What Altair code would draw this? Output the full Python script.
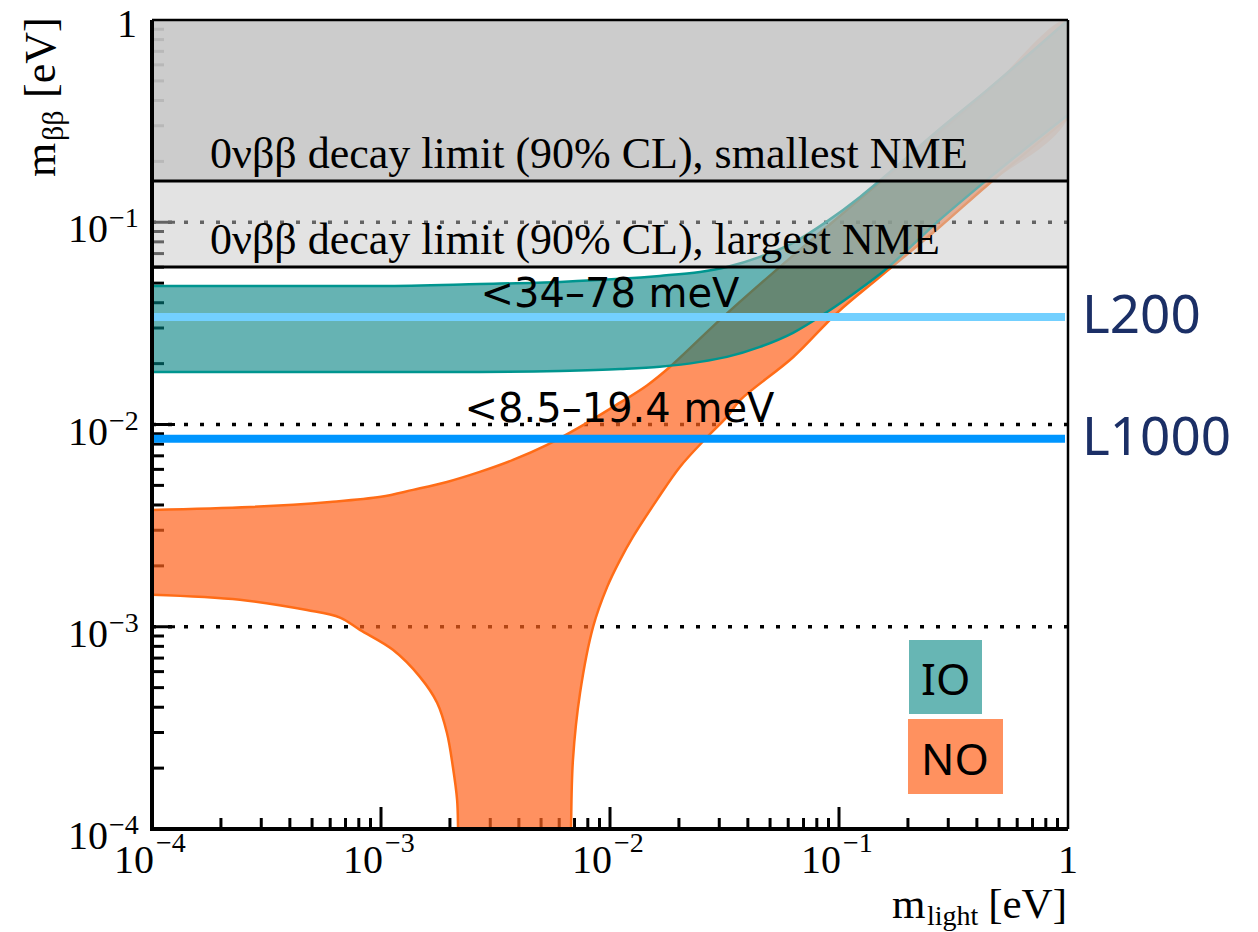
import altair as alt
import pandas as pd

# --- Allowed effective Majorana mass bands (eV) -------------------------
# Inverted ordering: lightest mass, upper and lower edge of the band
IO_M = [1e-4, 1e-3, 2.7e-3, 6.05e-3, 0.0111, 0.0165, 0.0247, 0.0324,
        0.0452, 0.063, 0.0887, 0.1236, 0.155, 0.276, 0.443, 1.0]
IO_UPPER = [0.0484, 0.0484, 0.0495, 0.0507, 0.0525, 0.0543, 0.0568, 0.0601,
            0.0674, 0.0791, 0.101, 0.1334, 0.165, 0.29, 0.45, 1.0]
IO_LOWER = [0.0182, 0.0182, 0.0182, 0.0184, 0.0188, 0.0193, 0.0204, 0.0216,
            0.0242, 0.0284, 0.0360, 0.0468, 0.0568, 0.103, 0.162, 0.339]

# Normal ordering: upper edge
NO_UPPER_M = [1e-4, 2.68e-4, 5.98e-4, 1e-3, 1.38e-3, 1.94e-3, 2.70e-3, 3.77e-3,
              5.31e-3, 7.40e-3, 0.0103, 0.0145, 0.0183, 0.0302, 0.0515, 0.0887,
              0.151, 0.276, 0.443, 1.0]
NO_UPPER = [0.00378, 0.00391, 0.00414, 0.00439, 0.00475, 0.00520, 0.00583,
            0.00668, 0.00793, 0.00973, 0.0122, 0.0156, 0.0193, 0.0329, 0.0562,
            0.095, 0.158, 0.28, 0.445, 1.0]
# Normal ordering: lower edge; the cancellation funnel drops below 1e-4 eV
NO_LOWER_M = [1e-4, 2.42e-4, 4.75e-4, 6.62e-4, 8.09e-4, 1.127e-3, 1.479e-3,
              1.758e-3, 1.94e-3, 2.06e-3, 2.15e-3, 2.17e-3, 2.18e-3, 6.74e-3,
              6.76e-3, 6.89e-3, 7.40e-3, 8.44e-3, 9.71e-3, 0.01107, 0.01259,
              0.01603, 0.0202, 0.0266, 0.0324, 0.0370, 0.063, 0.098, 0.151,
              0.276, 0.443, 1.0]
NO_LOWER = [1.44e-3, 1.36e-3, 1.21e-3, 1.11e-3, 9.65e-4, 7.69e-4, 5.65e-4,
            4.21e-4, 2.99e-4, 2.03e-4, 1.39e-4, 1e-4, 5e-5, 5e-5,
            1e-4, 2.20e-4, 4.71e-4, 1.0e-3, 1.57e-3, 2.14e-3, 2.78e-3,
            4.24e-3, 6.17e-3, 8.68e-3, 0.0109, 0.0132, 0.0215, 0.0356, 0.0537,
            0.095, 0.152, 0.328]

# --- Limits and sensitivities (eV) ---------------------------------------
LIMIT_VALUES = [0.06, 0.16]
LIMIT_TEXTS = ["0νββ decay limit (90% CL), largest NME",
               "0νββ decay limit (90% CL), smallest NME"]
SENS_VALUES = [0.034, 0.0085]
SENS_NAMES = ["L200", "L1000"]
SENS_RANGES = ["<34–78 meV", "<8.5–19.4 meV"]
SENS_RANGE_X = [0.01, 0.011]

# --- Axis decorations ----------------------------------------------------
DECADES = [1e-4, 1e-3, 1e-2, 1e-1]
EXPONENTS = ["−4", "−3", "−2", "−1"]
GRID = [1e-3, 1e-2, 1e-1]
MAJOR = [1e-3, 1e-2, 1e-1]
MINOR = [k * 10.0 ** e for e in range(-4, 0) for k in range(2, 10)]

W, H = 916, 809
SERIF = "Liberation Serif"
NO_FILL, NO_EDGE = "#ff631c", "#ff6c17"
IO_FILL, IO_EDGE = "#008080", "#00958f"

xs = alt.Scale(type="log", domain=[1e-4, 1])
ys = alt.Scale(type="log", domain=[1e-4, 1])


def X(f):
    return alt.X(f, type="quantitative", scale=xs, axis=None)


def Y(f):
    return alt.Y(f, type="quantitative", scale=ys, axis=None)


one = pd.DataFrame({"a": [0]})
grid_df = pd.DataFrame({"v": GRID})
major_df = pd.DataFrame({"v": MAJOR})
minor_df = pd.DataFrame({"v": MINOR})

io_df = pd.DataFrame({"m": IO_M, "hi": IO_UPPER, "lo": IO_LOWER})
no_poly = pd.DataFrame({
    "m": NO_UPPER_M + NO_LOWER_M[::-1],
    "v": NO_UPPER + NO_LOWER[::-1],
})
no_poly["i"] = range(len(no_poly))
no_up = pd.DataFrame({"m": NO_UPPER_M, "v": NO_UPPER, "i": range(len(NO_UPPER))})
no_lo = pd.DataFrame({"m": NO_LOWER_M, "v": NO_LOWER, "i": range(len(NO_LOWER))})

limits = pd.DataFrame({"v": LIMIT_VALUES, "t": LIMIT_TEXTS, "m": [1e-4, 1e-4]})
light_rect = pd.DataFrame({"lo": [LIMIT_VALUES[0]], "hi": [LIMIT_VALUES[1]]})
dark_rect = pd.DataFrame({"lo": [LIMIT_VALUES[1]], "hi": [1.0]})
sens = pd.DataFrame({"v": SENS_VALUES, "name": SENS_NAMES,
                     "rng": SENS_RANGES, "m": SENS_RANGE_X})
dec_df = pd.DataFrame({"v": DECADES, "e": EXPONENTS, "b": ["10"] * 4})

# dotted grid lines at each decade
grid = alt.Chart(grid_df).mark_rule(color="black", strokeWidth=3.5,
                                    strokeDash=[4, 12]).encode(
    y=Y("v"), x=alt.value(0), x2=alt.value(W))

# inward ticks on the left and bottom axes
ytick_minor = alt.Chart(minor_df).mark_rule(color="black", strokeWidth=3).encode(
    y=Y("v"), x=alt.value(0), x2=alt.value(12))
ytick_major = alt.Chart(major_df).mark_rule(color="black", strokeWidth=3).encode(
    y=Y("v"), x=alt.value(0), x2=alt.value(23))
xtick_minor = alt.Chart(minor_df).mark_rule(color="black", strokeWidth=3).encode(
    x=X("v"), y=alt.value(H), y2=alt.value(H - 11))
xtick_major = alt.Chart(major_df).mark_rule(color="black", strokeWidth=3).encode(
    x=X("v"), y=alt.value(H), y2=alt.value(H - 22))

# normal ordering band
no_fill = alt.Chart(no_poly).mark_line(
    filled=True, color=NO_FILL, fill=NO_FILL, fillOpacity=0.7,
    strokeWidth=0, interpolate="catmull-rom", clip=True).encode(
    x=X("m"), y=Y("v"), order=alt.Order("i:Q"))
no_edge_up = alt.Chart(no_up).mark_line(
    color=NO_EDGE, strokeWidth=2.5, interpolate="catmull-rom", clip=True).encode(
    x=X("m"), y=Y("v"), order=alt.Order("i:Q"))
no_edge_lo = alt.Chart(no_lo).mark_line(
    color=NO_EDGE, strokeWidth=2.5, interpolate="catmull-rom", clip=True).encode(
    x=X("m"), y=Y("v"), order=alt.Order("i:Q"))

# inverted ordering band
io_fill = alt.Chart(io_df).mark_area(
    color=IO_FILL, opacity=0.6, interpolate="monotone", clip=True).encode(
    x=X("m"), y=Y("hi"), y2="lo")
io_edge_up = alt.Chart(io_df).mark_line(
    color=IO_EDGE, strokeWidth=2.5, interpolate="monotone", clip=True).encode(
    x=X("m"), y=Y("hi"))
io_edge_lo = alt.Chart(io_df).mark_line(
    color=IO_EDGE, strokeWidth=2.5, interpolate="monotone", clip=True).encode(
    x=X("m"), y=Y("lo"))

# excluded regions from the 0vbb limits
light = alt.Chart(light_rect).mark_rect(color="#c8c8c8", opacity=0.5).encode(
    x=alt.value(0), x2=alt.value(W), y=Y("hi"), y2="lo")
dark = alt.Chart(dark_rect).mark_rect(color="#c8c8c8", opacity=0.92).encode(
    x=alt.value(0), x2=alt.value(W), y=Y("hi"), y2="lo")
limit_lines = alt.Chart(limits).mark_rule(color="black", strokeWidth=3).encode(
    y=Y("v"), x=alt.value(0), x2=alt.value(W))
limit_text = alt.Chart(limits).mark_text(
    font=SERIF, fontSize=44, align="left", baseline="alphabetic",
    dx=58, dy=-13, color="black").encode(x=X("m"), y=Y("v"), text="t")

# experiment sensitivity lines
sens_lines = alt.Chart(sens).mark_rule(strokeWidth=8).encode(
    y=Y("v"), x=alt.value(0), x2=alt.value(W - 3),
    color=alt.Color("name:N", scale=alt.Scale(domain=SENS_NAMES,
                                              range=["#73d0ff", "#0096ff"]),
                    legend=None))
sens_names = alt.Chart(sens).mark_text(
    font="Noto Sans", fontSize=53, align="left", baseline="middle",
    color="#1b2f66").encode(x=alt.value(W + 14), y=Y("v"), text="name")
sens_rng_top = alt.Chart(sens.iloc[[0]]).mark_text(
    font="DejaVu Sans", fontSize=40, align="center", baseline="alphabetic",
    dy=-10, color="black").encode(x=X("m"), y=Y("v"), text="rng")
sens_rng_bot = alt.Chart(sens.iloc[[1]]).mark_text(
    font="DejaVu Sans", fontSize=40, align="center", baseline="alphabetic",
    dy=-17, color="black").encode(x=X("m"), y=Y("v"), text="rng")

# frame
frame_left = alt.Chart(one).mark_rule(color="black", strokeWidth=4).encode(
    x=alt.value(0), y=alt.value(0), y2=alt.value(H))
frame_bottom = alt.Chart(one).mark_rule(color="black", strokeWidth=4).encode(
    y=alt.value(H), x=alt.value(-2), x2=alt.value(W))
frame_top = alt.Chart(one).mark_rule(color="black", strokeWidth=2.5).encode(
    y=alt.value(0), x=alt.value(0), x2=alt.value(W))
frame_right = alt.Chart(one).mark_rule(color="black", strokeWidth=2.5).encode(
    x=alt.value(W), y=alt.value(0), y2=alt.value(H))

# tick labels (10 with a raised exponent)
ylab_base = alt.Chart(dec_df).mark_text(
    font=SERIF, fontSize=40, align="right", baseline="alphabetic", dy=20).encode(
    x=alt.value(-44), y=Y("v"), text="b")
ylab_exp = alt.Chart(dec_df).mark_text(
    font=SERIF, fontSize=28, align="left", baseline="alphabetic", dy=5).encode(
    x=alt.value(-43), y=Y("v"), text="e")
ylab_one = alt.Chart(one).mark_text(
    font=SERIF, fontSize=40, align="right", baseline="alphabetic").encode(
    x=alt.value(-15), y=alt.value(17), text=alt.value("1"))
xlab_base = alt.Chart(dec_df).mark_text(
    font=SERIF, fontSize=40, align="right", baseline="alphabetic", dx=2).encode(
    x=X("v"), y=alt.value(H + 44), text="b")
xlab_exp = alt.Chart(dec_df).mark_text(
    font=SERIF, fontSize=28, align="left", baseline="alphabetic", dx=4).encode(
    x=X("v"), y=alt.value(H + 23), text="e")
xlab_one = alt.Chart(one).mark_text(
    font=SERIF, fontSize=40, align="center", baseline="alphabetic").encode(
    x=alt.value(W), y=alt.value(H + 44), text=alt.value("1"))

# axis titles
yt_m = alt.Chart(one).mark_text(font=SERIF, fontSize=44, angle=270, align="left",
                                baseline="alphabetic").encode(
    x=alt.value(-97), y=alt.value(157), text=alt.value("m"))
yt_sub = alt.Chart(one).mark_text(font=SERIF, fontSize=30, angle=270, align="left",
                                  baseline="alphabetic").encode(
    x=alt.value(-89), y=alt.value(121), text=alt.value("ββ"))
yt_unit = alt.Chart(one).mark_text(font=SERIF, fontSize=44, angle=270, align="left",
                                   baseline="alphabetic").encode(
    x=alt.value(-97), y=alt.value(78), text=alt.value("[eV]"))
xt_m = alt.Chart(one).mark_text(font=SERIF, fontSize=43, align="left",
                                baseline="alphabetic").encode(
    x=alt.value(740), y=alt.value(H + 89), text=alt.value("m"))
xt_sub = alt.Chart(one).mark_text(font=SERIF, fontSize=28, align="left",
                                  baseline="alphabetic").encode(
    x=alt.value(775), y=alt.value(H + 96), text=alt.value("light"))
xt_unit = alt.Chart(one).mark_text(font=SERIF, fontSize=43, align="right",
                                   baseline="alphabetic").encode(
    x=alt.value(W - 1), y=alt.value(H + 89), text=alt.value("[eV]"))

# ordering key
io_box = alt.Chart(one).mark_rect(color="#67b6b4").encode(
    x=alt.value(757), x2=alt.value(830), y=alt.value(620), y2=alt.value(694))
no_box = alt.Chart(one).mark_rect(color="#ff915f").encode(
    x=alt.value(756), x2=alt.value(851), y=alt.value(699), y2=alt.value(774))
io_key = alt.Chart(one).mark_text(font="Noto Sans", fontSize=44, align="left",
                                  baseline="alphabetic", color="black").encode(
    x=alt.value(769), y=alt.value(675), text=alt.value("IO"))
no_key = alt.Chart(one).mark_text(font="Noto Sans", fontSize=44, align="left",
                                  baseline="alphabetic", color="black").encode(
    x=alt.value(769), y=alt.value(755), text=alt.value("NO"))

chart = alt.layer(
    grid, ytick_minor, ytick_major, xtick_minor, xtick_major,
    no_fill, no_edge_up, no_edge_lo,
    io_fill, io_edge_up, io_edge_lo,
    light, dark, limit_lines, limit_text,
    sens_lines, sens_names, sens_rng_top, sens_rng_bot,
    frame_left, frame_bottom, frame_top, frame_right,
    ylab_base, ylab_exp, ylab_one, xlab_base, xlab_exp, xlab_one,
    yt_m, yt_sub, yt_unit, xt_m, xt_sub, xt_unit,
    io_box, no_box, io_key, no_key,
).properties(
    width=W, height=H,
    padding={"left": 152, "top": 20, "right": 190, "bottom": 103},
    autosize=alt.AutoSizeParams(type="none"),
    background="white",
).configure_view(strokeWidth=0)

chart.save("out.html", embed_options={"renderer": "svg", "actions": False})
